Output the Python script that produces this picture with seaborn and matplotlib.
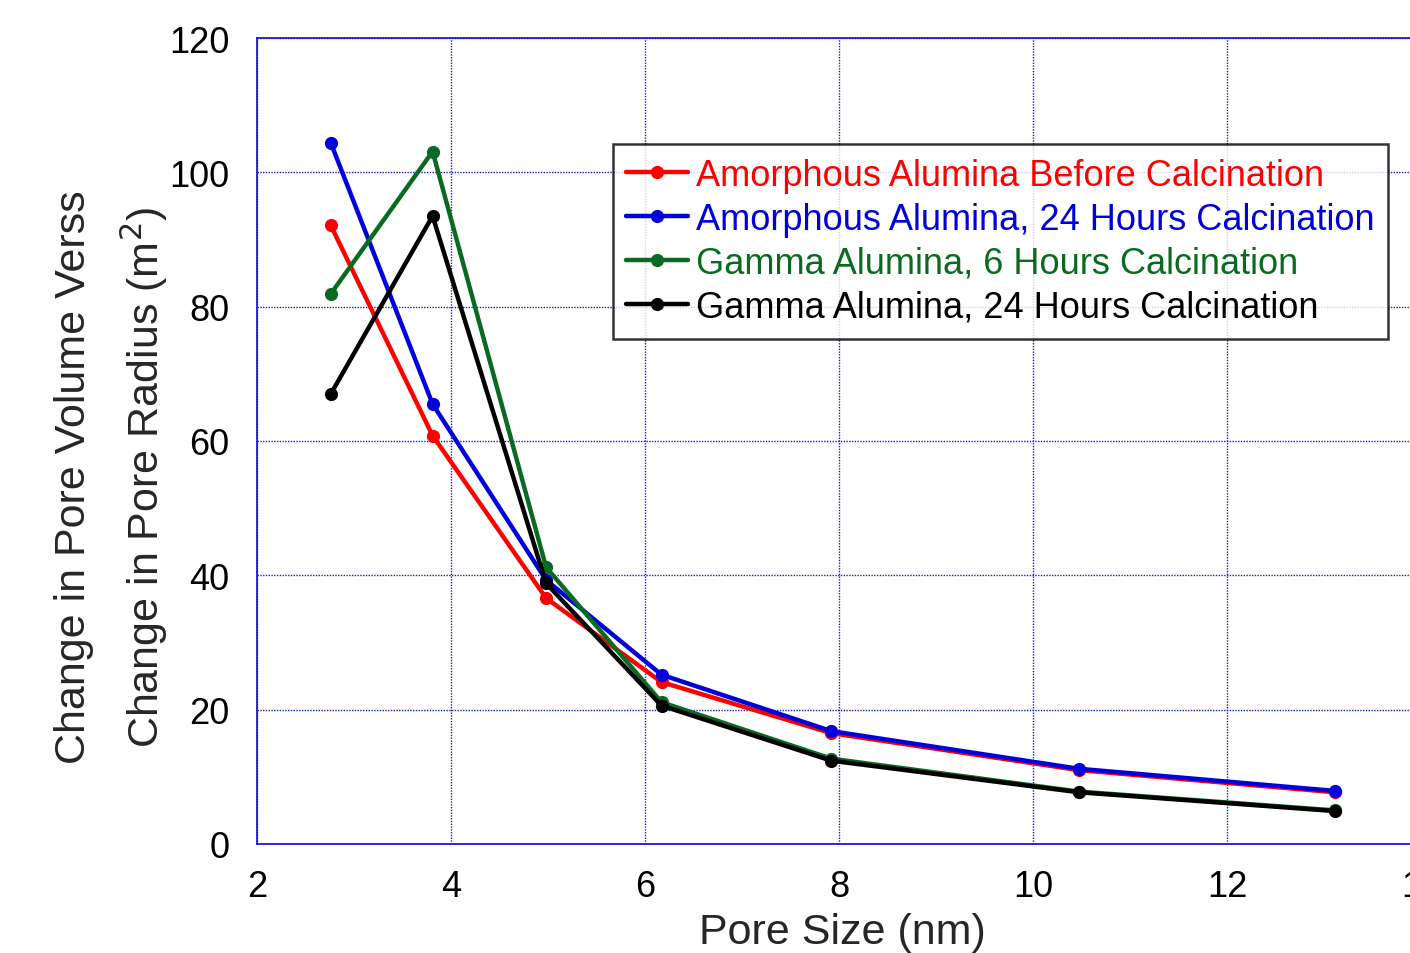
import matplotlib
matplotlib.use("Agg")
import matplotlib.pyplot as plt
import seaborn as sns
import pandas as pd

# pore size (nm)
pore_size = [2.76, 3.81, 4.98, 6.17, 7.92, 10.47, 13.11]

amorph_before = [92.1, 60.8, 36.6, 24.1, 16.5, 11.0, 7.7]
amorph_24h    = [104.4, 65.5, 39.3, 25.2, 16.8, 11.2, 7.9]
gamma_6h      = [81.9, 103.1, 41.2, 21.1, 12.7, 7.8, 5.0]
gamma_24h     = [67.0, 93.5, 38.8, 20.6, 12.4, 7.7, 4.9]

series_names = [
    "Amorphous Alumina Before Calcination",
    "Amorphous Alumina, 24 Hours Calcination",
    "Gamma Alumina, 6 Hours Calcination",
    "Gamma Alumina, 24 Hours Calcination",
]
series_vals = [amorph_before, amorph_24h, gamma_6h, gamma_24h]
series_colors = ["#ff0000", "#0000dd", "#0b6a21", "#000000"]

y_ticks = [0, 20, 40, 60, 80, 100, 120]
x_ticks = [2, 4, 6, 8, 10, 12, 14]

sns.set_theme(style="white")
plt.rcParams.update({
    "font.family": ["Liberation Sans", "DejaVu Sans"],
    "font.size": 26,
})

AX_COLOR = "#1a1ad0"

fig = plt.figure(figsize=(14.1, 9.54), dpi=100)
ax = fig.add_axes([0.1823, 0.1143, 0.8255, 0.8448])

for name, vals, color in zip(series_names, series_vals, series_colors):
    df = pd.DataFrame({"size": pore_size, "val": vals})
    sns.lineplot(data=df, x="size", y="val", ax=ax, color=color, label=name,
                 marker="o", markersize=9.5, markeredgewidth=0, linewidth=3.2)

ax.set_xlim(2, 14)
ax.set_ylim(0, 120)
ax.set_xticks(x_ticks)
ax.set_yticks(y_ticks)
ax.set_xlabel("")
ax.set_ylabel("")
ax.grid(True, color=AX_COLOR, linestyle=(0, (1, 1)), linewidth=1.0)
ax.set_axisbelow(True)
for sp in ax.spines.values():
    sp.set_color(AX_COLOR)
    sp.set_linewidth(1.3)
ax.tick_params(axis="both", direction="in", length=9, width=1.2, color=AX_COLOR,
               labelsize=26, labelcolor="black")
ax.tick_params(axis="y", pad=20)
ax.tick_params(axis="x", pad=18)

leg = ax.legend(loc="upper right", bbox_to_anchor=(0.9716, 0.8685),
                borderaxespad=0, fontsize=26, handlelength=1.7,
                handletextpad=0.22, borderpad=0.38, labelspacing=0.25,
                fancybox=False, frameon=True)
leg.get_frame().set_edgecolor("black")
leg.get_frame().set_linewidth(1.8)
for txt, color in zip(leg.get_texts(), series_colors):
    txt.set_color(color)

fig.text(0.0525, 0.5, "Change in Pore Volume Verss", rotation=90,
         ha="center", va="center", fontsize=31)
fig.text(0.1024, 0.5, "Change in Pore Radius (m$^2$)", rotation=90,
         ha="center", va="center", fontsize=31)
fig.text(0.5975, 0.022, "Pore Size (nm)", ha="center", va="center", fontsize=31)

fig.savefig("out.png", dpi=100)
